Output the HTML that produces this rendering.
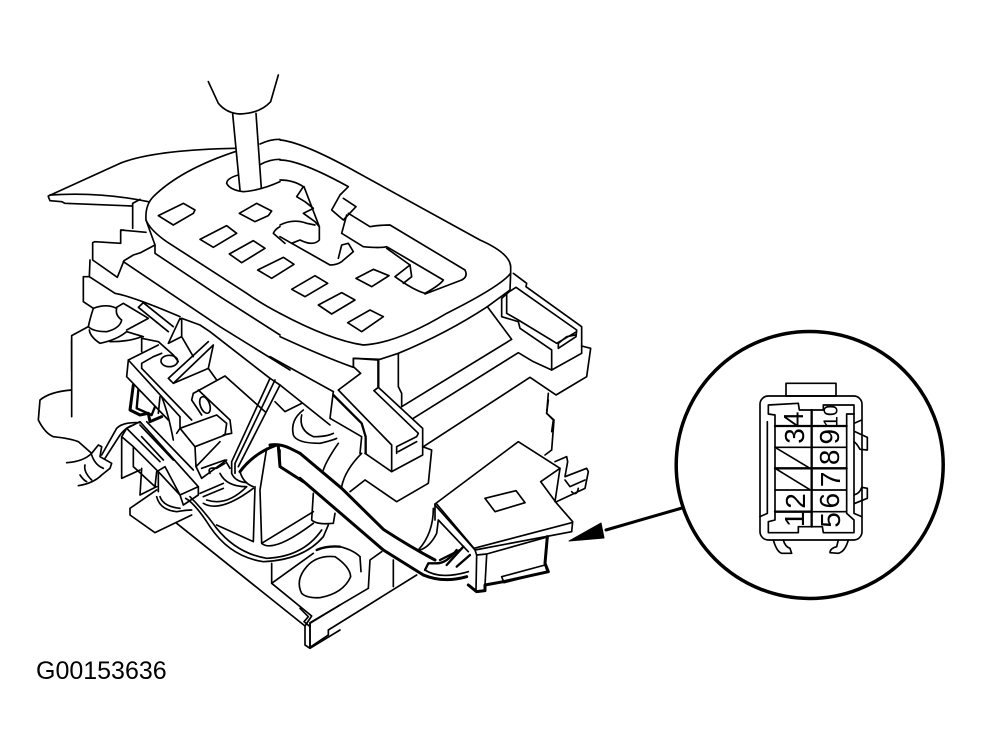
<!DOCTYPE html>
<html><head><meta charset="utf-8"><style>
html,body{margin:0;padding:0;background:#fff}
svg{display:block}
path,rect,ellipse,circle{fill:none;stroke:#000;stroke-width:5;stroke-linejoin:round;stroke-linecap:round}
.t{stroke-width:9}
.m{stroke-width:7}
text{font-family:"Liberation Sans",sans-serif;fill:#000}
</style></head><body>
<svg width="982" height="755" viewBox="0 0 982 755" xmlns="http://www.w3.org/2000/svg">
<rect x="0" y="0" width="982" height="755" style="fill:#fff;stroke:none"/>

<!-- Region A: upper left -->
<g transform="translate(20,70) scale(.33333)">
<path d="M565,35 L595,100 Q620,130 660,132 Q720,130 752,95 L775,15"/>
<path d="M638,132 L660,360M708,130 L724,355"/>
<path d="M85,378 L300,280 Q400,240 645,235"/>
<path d="M90,375 Q240,365 385,395M85,380 L90,392 L125,395 L135,400 L335,408"/>
<path d="M338,400 L338,475M338,400 L360,388"/>
<path d="M645,245 Q480,300 400,380 Q375,405 378,450 Q390,480 440,515 L680,670 Q730,705 780,730"/>
<path d="M378,450 L405,525 L405,550 L600,680 L780,795"/>
<path d="M720,222 Q750,208 780,208M722,283 Q750,268 780,268"/>
<path d="M655,315 Q620,325 620,340 Q630,360 670,365 Q720,362 780,335"/>
<path d="M780,470 Q765,478 760,490 L795,520"/>
<path d="M415,437 L490,400 L525,420 L520,430 L460,465 Z"/>
<path d="M658,430 L710,400 L755,423 L745,437 L705,455 Z"/>
<path d="M540,508 L620,467 L650,490 L580,532 Z"/>
<path d="M628,552 L700,512 L735,535 L665,578 Z"/>
<path d="M713,600 L790,562 L822,583 L755,625 Z"/>
<path d="M310,480 L302,482 L302,520 L225,515 L218,518 L218,570 L292,622 L312,572 L340,555 L362,548 L405,525"/>
<path d="M302,480 L378,487"/>
<path d="M210,570 L208,620 L285,670 Q340,680 480,740"/>
<path d="M310,575 L600,770 L810,900"/>
<path d="M208,620 L190,620 L190,695 L220,715"/>
<path d="M220,715 Q260,700 290,715 Q285,735 305,750 Q300,775 260,785 Q220,785 205,770 Q210,745 220,715"/>
<path d="M290,712 L310,700 L385,745 L320,780"/>
<path d="M205,770 L155,797 L155,900"/>
<path d="M208,780 Q210,800 240,820 Q290,810 320,785 L370,800"/>
</g>

<!-- Region B: top right -->
<g transform="translate(280,130) scale(.33333)">
<path d="M0,30 Q60,35 200,110 L600,330 Q690,370 692,410 L692,430"/>
<path d="M692,430 Q660,470 500,550 Q350,640 250,645 Q150,630 0,550"/>
<path d="M692,430 L690,480 L622,530 Q500,610 355,670 L300,688 L220,685 L220,712 Q130,680 0,620"/>
<path d="M0,90 Q60,90 205,170 L180,195 L155,240 L190,270 L228,230 L190,205"/>
<path d="M200,255 L185,310 L250,350 Q300,355 320,350 L490,450 Q480,465 435,490 Q400,480 345,440 L390,405 L395,440 L370,460"/>
<path d="M205,250 L270,290 Q300,285 330,285 L555,420 Q565,440 545,450 L435,492"/>
<path d="M390,405 L320,355"/>
<path d="M0,150 Q40,150 70,170 L50,200 L75,215 L100,235 L70,250 L105,275 L118,290 L118,330 Q100,350 60,330 L35,340"/>
<path d="M0,320 L150,405 Q170,405 185,395 L220,365 L205,340 L185,345 L175,385"/>
<path d="M0,285 Q40,265 80,280 L105,285M72,170 L118,290"/>
<path d="M35,478 L105,437 L143,460 L75,500 Z"/>
<path d="M115,525 L185,488 L225,510 L155,552 Z"/>
<path d="M203,578 L270,540 L310,560 L245,605 Z"/>
<path d="M228,445 L280,418 L327,437 L275,470 Z"/>
<path d="M680,490 L680,550 L715,570 L830,640 L890,605M680,490 L708,472 L890,600 L888,620 L835,655 L835,640M835,640 L860,620 L885,615"/>
<path d="M700,430 L740,460 L738,470 L905,590 L905,670 L815,720 L815,660 L720,595 L715,575 L665,560 L665,505 L685,487"/>
<path d="M905,648 L932,655 L920,740 L828,795 L750,742 L430,950"/>
<path d="M365,830 L695,628 L622,530"/>
<path d="M400,865 L715,668 L760,695 L815,720"/>
<path d="M355,670 L355,770 L365,790 L365,830"/>
<path d="M805,790 L800,850 L820,870 L815,905"/>
</g>

<!-- Region C: centre tabs -->
<g transform="translate(270,340) scale(.33333)">
<path d="M0,50 L190,155"/>
<path d="M190,155 L180,235 L275,290 L270,340"/>
<path d="M205,150 L272,100 L250,80 L250,55 L325,60"/>
<path class="m" d="M325,60 L325,140"/>
<path d="M312,152 L325,142 L458,265 L458,345 L365,395 L285,340"/>
<path d="M312,152 L445,280 L440,290 L380,320 L380,340"/>
<path d="M205,150 L365,315 L365,395"/>
<path class="m" d="M190,165 L275,250 L287,290 L287,340"/>
<path d="M385,335 L440,305"/>
<path d="M458,320 L485,330 L475,430 L380,485 L285,420 L240,455"/>
<path d="M275,340 Q225,390 215,440M205,310 Q170,360 160,390"/>
<path d="M100,210 Q60,240 70,285 Q80,310 150,310 Q190,300 200,295"/>
<path d="M95,225 Q85,270 130,290 Q170,290 190,280"/>
<path d="M130,460 L125,540 Q140,555 190,550 L195,520"/>
<path class="t" d="M0,315 Q30,310 60,325 L90,340"/>
<path class="t" d="M25,320 L30,380 L100,425"/>
</g>

<!-- Region F: linkage, lever block, wire trio -->
<g transform="translate(110,300) scale(.33333)">
<path d="M85,22 L175,95M100,8 L190,80M85,22 L100,8"/>
<path d="M210,55 L175,130 L215,110 L215,60 Z"/>
<path d="M215,110 L250,170"/>
<path d="M215,55 L270,75 L300,95 L480,235"/>
<path d="M190,250 L310,135 L295,205 Z M190,250 L175,235 L295,125"/>
<path d="M295,205 L320,240"/>
<path d="M250,280 L345,228 L465,335"/>
<path d="M265,270 L360,360 L365,400 L340,405"/>
<path d="M250,280 L245,300 L275,345"/>
<ellipse cx="285" cy="315" rx="14" ry="26" transform="rotate(-20 285 315)"/>
<path d="M210,385 L320,345 L350,370 L345,405 L255,440 Z"/>
<path d="M255,440 L258,500 L330,425"/>
<path d="M258,500 L275,535 L350,480"/>
<path d="M275,505 L345,480 L360,505"/>
<path d="M55,180 L145,135"/>
<path d="M55,180 L50,230 L175,360M55,180 L210,350"/>
<path d="M95,190 L130,170 L155,160M95,190 L95,205 L245,360"/>
<ellipse cx="178" cy="183" rx="25" ry="17"/>
<path d="M95,115 L95,155M95,115 L145,125 L190,165 L205,185"/>
<path d="M210,350 L210,385 L200,400"/>
<path class="t" d="M70,255 L60,330 L90,345 L115,340 L120,365 L155,350"/>
<path class="m" d="M85,270 L80,325 L125,345 L135,320"/>
<path d="M150,290 L145,340M155,290 Q175,340 190,420"/>
<path d="M110,365 L250,510"/>
<path d="M480,235 L365,485 L365,520 Q375,545 410,548M495,240 L375,490 L375,520M510,255 L385,500M480,235 L510,255"/>
<path d="M495,305 L525,335 L575,310M510,255 L660,375"/>
<path d="M0,125 Q60,125 95,110"/>
</g>

<!-- Region D: lower left -->
<g transform="translate(20,340) scale(.33333)">
<path d="M155,150 Q90,155 60,180 L55,240 Q75,280 100,290 Q150,295 175,305 L215,340"/>
<path d="M155,0 L155,230"/>
<path d="M140,368 Q190,365 215,340 L235,315 L245,320 L240,350 L275,370 L270,385 L245,405 Q220,430 175,437"/>
<path d="M195,375 Q190,395 215,420M180,405 Q190,420 200,425M215,345 Q225,375 250,385"/>
<path d="M245,345 L290,265 Q310,245 360,248M255,355 L300,285 Q320,260 340,255"/>
<path d="M305,290 L320,265 L360,245 L535,440 L480,465 L415,395 L340,320 L305,290"/>
<path d="M305,290 L305,415 L360,390M340,320 L340,380 L405,440L410,395 L435,380 L480,465"/>
<path d="M320,265 L420,365M360,255 L460,360M365,290 L430,360"/>
<path d="M365,385 L360,465 L410,440M415,395 L415,455"/>
<path d="M480,465 L490,495 L535,465 L535,440"/>
<path d="M410,450 L330,505 L330,525 L405,578 L515,525"/>
<path d="M470,550 L855,858 L875,828 L755,730 L755,670M755,730 L880,640"/>
<path d="M855,858 L855,915 L870,925 L960,870M870,925 L870,850 L960,795"/>
<path d="M410,470 Q420,510 470,515 Q500,510 515,510M420,470 Q430,500 480,505"/>
<path d="M497,475 Q525,490 570,560 Q630,650 730,665 Q850,660 910,590 L925,555"/>
<path d="M510,470 Q550,510 590,565 Q650,640 740,655 Q850,650 905,570"/>
<path d="M550,490 Q600,520 700,445M560,480 Q620,500 680,440M540,460 L610,430M550,470 L610,445"/>
<path d="M705,440 L700,605 L590,555M720,450 L725,610 Q760,640 880,550M725,610 L880,515M740,325 L720,450"/>
<path class="t" d="M660,395 Q700,340 770,315"/>
<path d="M660,395 Q670,430 700,440M780,330 L780,375"/>
<path d="M600,400 Q620,440 680,440"/>
<path d="M570,400 Q560,380 590,385 L615,370"/>
</g>

<!-- Region E: plug -->
<g transform="translate(300,400) scale(.33333)">
<path d="M745,0 L740,40 L762,60 L755,150 L735,165"/>
<path d="M405,312 L655,125 L780,205 L722,245 L770,310 L818,365 L815,395 L525,450 L405,315"/>
<path d="M410,312 L522,445 L815,368"/>
<path d="M555,295 L648,272 L675,308 L585,335 Z"/>
<path d="M780,205 L765,305M765,185 L800,170 L803,185 L795,230 L860,205 L865,215 L855,265 L770,305M795,240 L810,260 L855,240M815,275 Q830,290 835,265"/>
<path d="M525,450 L530,465 L560,462 L745,410"/>
<path class="t" d="M742,410 L735,490 L745,515 L610,545 L555,555 L555,572 L530,575 L505,555"/>
<path d="M530,465 L528,570M560,465 L555,555"/>
<path d="M605,530 L735,495 L742,515 L612,548 Z"/>
<path class="t" d="M370,525 Q430,550 500,530"/>
<path d="M375,510 Q420,540 505,515"/>
<path d="M415,360 L505,455M415,360 L410,400 Q390,440 360,450M400,325 Q400,400 355,450M405,312 L405,360"/>
<path class="m" d="M375,510 L385,490 L410,490 Q440,490 470,450M440,495 L490,440M470,500 L510,465M420,480 L480,450"/>
<path class="t" d="M0,160 L125,265 L250,388 Q330,440 405,480"/>
<path class="t" d="M0,235 L250,450 L370,525"/>
<path d="M30,668 L205,565 L210,480 L245,455M30,668 L30,742 L85,705 L85,690 L350,525"/>
<path d="M280,480 L280,560"/>
<path d="M0,625 L25,650 L12,665 L30,680"/>
<path d="M180,470 L183,515"/>
<path d="M20,500 Q50,465 105,470 Q150,500 152,530 Q130,580 60,593 Q20,595 5,580 Q-15,540 20,500"/>
<path class="m" d="M50,450 Q80,437 120,440"/>
<path d="M120,440 Q160,450 180,470"/>
</g>

<!-- Callout -->
<circle cx="809.7" cy="465" r="133.5" style="stroke-width:3.5"/>
<path d="M606,530 L682,508" style="stroke-width:3"/>
<path d="M569,541 L601,523 L604,538 Z" style="fill:#000;stroke-width:1"/>

<g transform="translate(660,340) scale(.33333)">
<rect x="378" y="130" width="150" height="38"/>
<rect x="300" y="168" width="306" height="432" rx="25"/>
<path d="M325,195 L415,190 L418,210 L490,210 L490,195 L582,195 L582,222 L560,222 L560,520 L582,540 L582,578 L490,578 L487,560 L415,560 L415,578 L325,578 L325,545 L345,540 L345,225 L325,222 Z"/>
<path class="m" d="M345,258 L560,258M345,385 L560,385M345,515 L455,515"/>
<path d="M345,322 L560,322M345,450 L560,450M455,515 L560,515"/>
<path class="m" d="M455,210 L455,560"/>
<path d="M350,325 L445,382M350,388 L448,448"/>
<path d="M322,245 L322,520 L300,530"/>
<path d="M582,222 L582,520M582,250 L605,240M582,520 L605,530"/>
<path d="M585,275 L622,292 L622,330L600,328 Q590,310 582,305"/>
<path d="M585,490 L622,475 L622,445 L605,442 Q600,460 582,465"/>
<path d="M340,600 Q350,635 365,640 L395,640 L390,625 Q375,620 370,600"/>
<path d="M565,600 Q555,635 535,640 L510,638 Q510,625 530,620 L535,600"/>
<g font-size="84">
<text transform="translate(402,538) rotate(-90)" text-anchor="middle" dy=".35em">1</text>
<text transform="translate(405,483) rotate(-90)" text-anchor="middle" dy=".35em">2</text>
<text transform="translate(403,288) rotate(-90)" text-anchor="middle" dy=".35em">3</text>
<text transform="translate(400,238) rotate(-90)" text-anchor="middle" dy=".35em">4</text>
<text transform="translate(510,540) rotate(-90)" text-anchor="middle" dy=".35em">5</text>
<text transform="translate(507,482) rotate(-90)" text-anchor="middle" dy=".35em">6</text>
<text transform="translate(510,418) rotate(-90)" text-anchor="middle" dy=".35em">7</text>
<text transform="translate(507,352) rotate(-90)" text-anchor="middle" dy=".35em">8</text>
<text transform="translate(507,290) rotate(-90)" text-anchor="middle" dy=".35em">9</text>
</g>
<text font-size="60" transform="translate(512,228) rotate(-90)" text-anchor="middle" dy=".35em">10</text>
</g>

<text x="36" y="679" font-size="25">G00153636</text>
</svg>
</body></html>
